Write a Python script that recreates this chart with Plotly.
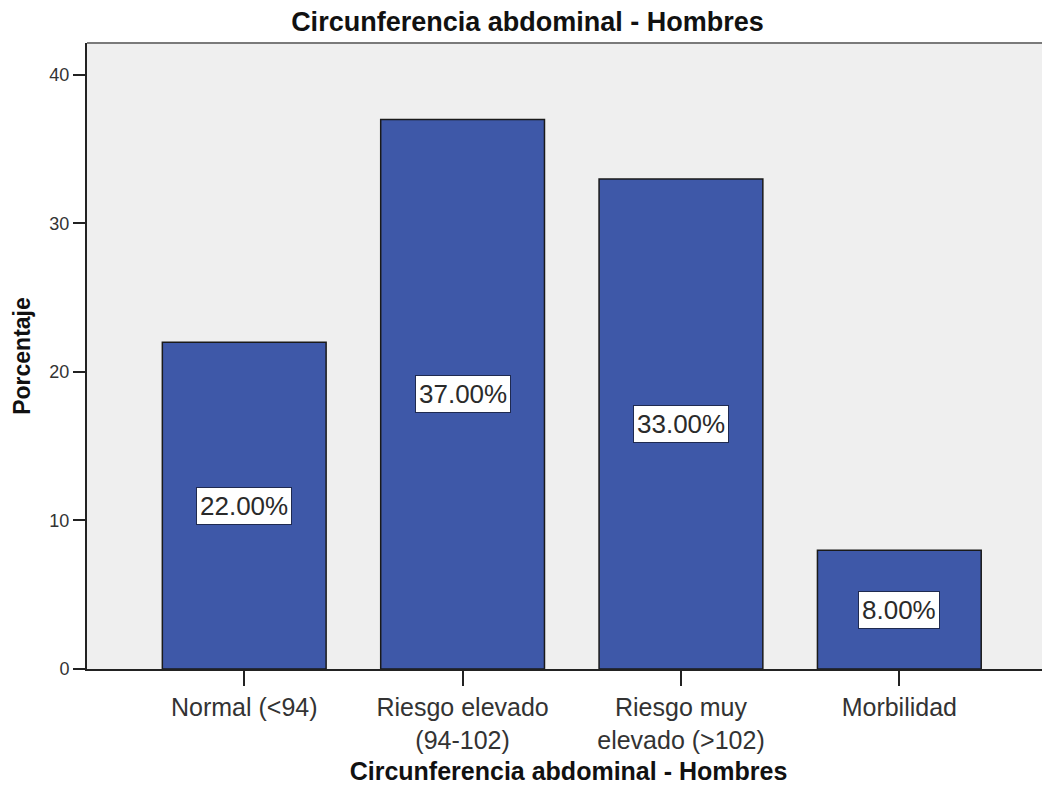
import plotly.graph_objects as go

categories = ["Normal (<94)", "Riesgo elevado<br>(94-102)", "Riesgo muy<br>elevado (>102)", "Morbilidad"]
values = [22.0, 37.0, 33.0, 8.0]
y_ticks = [0, 10, 20, 30, 40]

FONT = "Arial, Liberation Sans, sans-serif"

fig = go.Figure()
fig.add_trace(go.Bar(
    x=list(range(len(categories))), y=values,
    width=0.75,
    marker=dict(color="#3E58A8", line=dict(color="#1a1a1a", width=1.5)),
    hoverinfo="skip",
))

for i, v in enumerate(values):
    fig.add_annotation(
        x=i, y=v / 2, text=f"{v:.2f}%", showarrow=False,
        font=dict(family=FONT, size=26, color="#2a2a2a"),
        bgcolor="white", bordercolor="#1f2a50", borderwidth=1, borderpad=3,
    )

# top border line
fig.add_shape(type="line", xref="paper", yref="paper", x0=0, x1=1, y0=1, y1=1,
              line=dict(color="#7a7a7a", width=2))

fig.update_layout(
    width=1042, height=779,
    margin=dict(l=79, r=0, t=35, b=118),
    paper_bgcolor="white",
    plot_bgcolor="#EFEFEF",
    showlegend=False,
    title=dict(text="<b>Circunferencia abdominal - Hombres</b>", x=0.4985, xanchor="center",
               y=0.982, yanchor="middle",
               font=dict(family=FONT, size=27, color="#111111")),
    xaxis=dict(
        range=[-0.72, 3.69],
        tickmode="array", tickvals=list(range(len(categories))), ticktext=categories,
        ticks="outside", ticklen=15, tickwidth=2, tickcolor="#222222",
        tickfont=dict(family=FONT, size=25, color="#333333"),
        showline=True, linecolor="#222222", linewidth=2,
        showgrid=False, zeroline=False,
        title=dict(text="<b>Circunferencia abdominal - Hombres</b>", standoff=10,
                   font=dict(family=FONT, size=25, color="#111111")),
    ),
    yaxis=dict(
        range=[0, 42.15],
        tickmode="array", tickvals=y_ticks,
        ticks="outside", ticklen=12, tickwidth=2, tickcolor="#222222",
        tickfont=dict(family=FONT, size=18, color="#333333"),
        showline=True, linecolor="#222222", linewidth=2,
        showgrid=False, zeroline=False,
        title=dict(text="<b>Porcentaje</b>", standoff=12,
                   font=dict(family=FONT, size=23, color="#111111")),
    ),
)

fig.write_html("out.html")
